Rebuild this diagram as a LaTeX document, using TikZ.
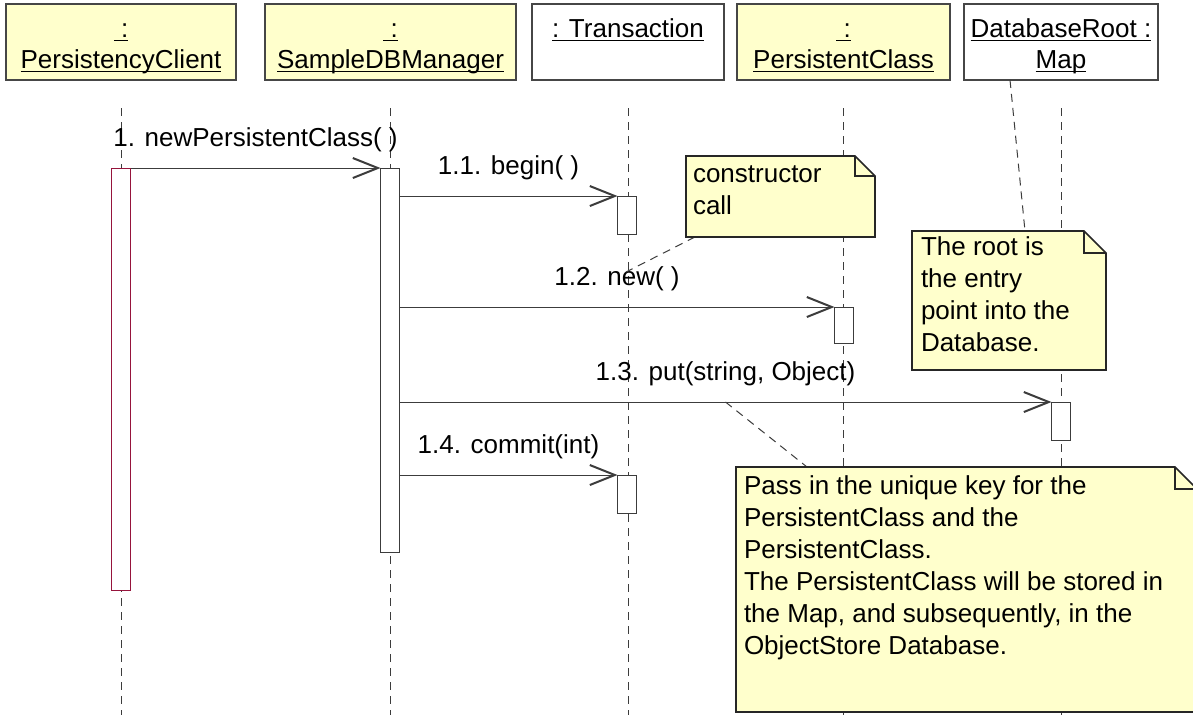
\documentclass[tikz,border=0pt]{standalone}
\usepackage{fontspec}
\setmainfont{Liberation Sans}
\usetikzlibrary{arrows.meta}
\definecolor{paleyellow}{RGB}{255,255,204}
\definecolor{framegray}{RGB}{70,70,70}
\definecolor{linegray}{RGB}{60,60,60}
\definecolor{clientred}{RGB}{150,20,60}

% folded-corner outline around an empty node: #1 node name, #2 fold size
\newcommand\foldednote[2]{%
  \draw[noteframe] (#1.north west) -- ([xshift=-#2]#1.north east) -- ([yshift=-#2]#1.north east)
    -- (#1.south east) -- (#1.south west) -- cycle;
  \draw[foldline] ([xshift=-#2]#1.north east) |- ([yshift=-#2]#1.north east);
}
% underline of a header text node
\newcommand\underlinenode[1]{%
  \draw[uline] ([yshift=-3.5pt]#1.base west) -- ([yshift=-3.5pt]#1.base east);
}

\begin{document}
\begin{tikzpicture}[x=1pt, y=-1pt,
  txt/.style={font=\fontsize{26}{32}\selectfont, inner sep=0pt, outer sep=0pt, text=black},
  head/.style={txt, anchor=base},
  objbox/.style={draw=framegray, line width=1.3pt, inner sep=0pt, outer sep=0pt,
    anchor=north west, minimum height=76pt},
  classbox/.style={objbox, fill=paleyellow},
  plainbox/.style={objbox, fill=white},
  uline/.style={draw=black, line width=1.4pt},
  lifeline/.style={draw=linegray, line width=1pt, dash pattern=on 8pt off 6pt},
  activation/.style={draw=linegray, fill=white, line width=1pt, inner sep=0pt,
    outer sep=0pt, anchor=north west, minimum width=19pt},
  msg/.style={draw=linegray, line width=1pt,
    -{Straight Barb[length=25pt, width=20pt, line width=2pt]}},
  msglabel/.style={txt, anchor=base, midway, yshift=22pt},
  notearea/.style={inner sep=0pt, outer sep=0pt, anchor=north west},
  noteframe/.style={draw=black!85, fill=paleyellow, line width=1.6pt, line join=miter},
  foldline/.style={draw=black!85, line width=1.2pt},
  notetext/.style={txt, anchor=north west, align=left},
  notelink/.style={draw=linegray, line width=1pt, dash pattern=on 8pt off 6pt},
]
\useasboundingbox (0,0) rectangle (1193,715);
\fill[white] (0,0) rectangle (1193,715);

% object headers
\node[classbox, minimum width=230pt] (client) at (6,4) {};
\node[classbox, minimum width=251pt] (manager) at (265,4) {};
\node[plainbox, minimum width=192pt] (trans) at (532,4) {};
\node[classbox, minimum width=213pt] (pclass) at (737,4) {};
\node[plainbox, minimum width=194pt] (root) at (964,4) {};

\node[head] (clientA) at (121,37) {\ :\ };
\node[head] (clientB) at (121,68) {PersistencyClient};
\node[head] (managerA) at (390.5,37) {\ :\ };
\node[head] (managerB) at (390.5,68) {SampleDBManager};
\node[head] (transA) at (628,37) {: Transaction};
\node[head] (pclassA) at (843.5,37) {\ :\ };
\node[head] (pclassB) at (843.5,68) {PersistentClass};
\node[head] (rootA) at (1061,37) {DatabaseRoot :\ };
\node[head] (rootB) at (1061,68) {Map};
\foreach \n in {clientA,clientB,managerA,managerB,transA,pclassA,pclassB,rootA,rootB}
  {\underlinenode{\n}}

% lifelines
\foreach \n in {client,manager,trans,pclass,root} {
  \coordinate (\n End) at (\n.south |- 0,715);
  \draw[lifeline] ([yshift=-28pt]\n.south) -- (\n End);
}

% activations
\node[activation, draw=clientred, minimum height=422pt] (actC) at (111.5,168) {};
\node[activation, minimum height=384pt] (actM) at (380.5,168) {};
\node[activation, minimum height=38pt] (actT1) at (617.5,196) {};
\node[activation, minimum height=36pt] (actP) at (834.5,307) {};
\node[activation, minimum height=38pt] (actR) at (1051.5,402) {};
\node[activation, minimum height=38pt] (actT2) at (617.5,475) {};

% messages
\draw[msg] (actC.north east) -- (actM.north west)
  node[msglabel] (m1) {1. newPersistentClass(\ )};
\draw[msg] (actM.east |- actT1.north) -- (actT1.north west)
  node[msglabel] (m11) {1.1. begin(\ )};
\draw[msg] (actM.east |- actP.north) -- (actP.north west)
  node[msglabel] (m12) {1.2. new(\ )};
\draw[msg] (actM.east |- actR.north) -- coordinate[midway] (m13mid) (actR.north west)
  node[msglabel] (m13) {1.3. put(string, Object)};
\draw[msg] (actM.east |- actT2.north) -- (actT2.north west)
  node[msglabel] (m14) {1.4. commit(int)};

% notes
\node[notearea, minimum width=189pt, minimum height=81pt] (noteCtor) at (686,156) {};
\node[notearea, minimum width=194pt, minimum height=139pt] (noteRoot) at (912,231) {};
\node[notearea, minimum width=461pt, minimum height=245pt] (noteKey) at (736,467) {};

\coordinate (ctorEnd) at (626,272);
\draw[notelink] ([xshift=9pt]noteCtor.south west) -- (ctorEnd);
\draw[notelink] ([xshift=-51pt]root.south) -- ([xshift=113pt]noteRoot.north west);
\draw[notelink] (m13mid) -- ([xshift=71pt]noteKey.north west);

\foldednote{noteCtor}{20pt}
\foldednote{noteRoot}{22pt}
\foldednote{noteKey}{22pt}

\node[notetext] (ctorText) at (693,159.6) {\strut constructor\\call};
\node[notetext] (rootText) at (921,232.6) {\strut The root is\\the entry\\point into the\\Database.};
\node[notetext] (keyText) at (744,471.6) {\strut Pass in the unique key for the\\PersistentClass and the\\PersistentClass.\\The PersistentClass will be stored in\\the Map, and subsequently, in the\\ObjectStore Database.};
\end{tikzpicture}
\end{document}
